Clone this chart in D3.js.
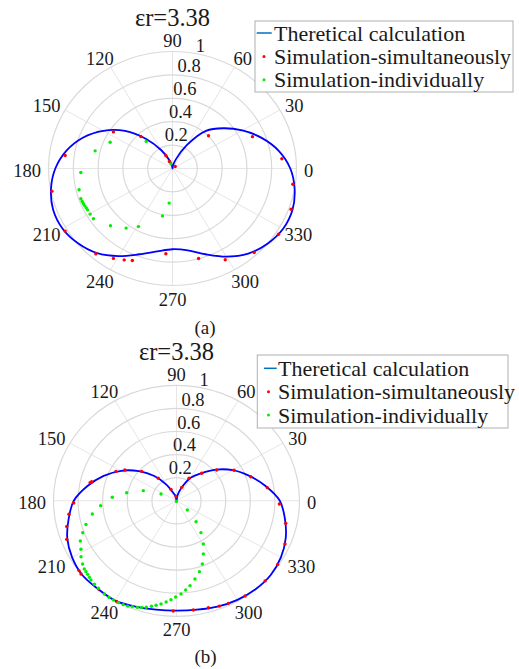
<!DOCTYPE html>
<html><head><meta charset="utf-8">
<script src="https://cdn.jsdelivr.net/npm/d3@7"></script>
<style>
body{margin:0;background:#fff}
</style>
</head><body>
<svg id="chart" width="519" height="669" font-family="'Liberation Serif', 'Times New Roman', Tinos, 'DejaVu Serif', serif"></svg>
<script>
// ---------- DATA ----------
const thetaTicks = [0,30,60,90,120,150,180,210,240,270,300,330];
const thetaTickLabels = ["0","30","60","90","120","150","180","210","240","270","300","330"];
const rTicks = [0.2,0.4,0.6,0.8,1];
const rTickLabels = ["0.2","0.4","0.6","0.8","1"];
const titleText = "εr=3.38";
const legendLabels = ["Theretical calculation","Simulation-simultaneously","Simulation-individually"];
const captions = ["(a)","(b)"];

const theoryAngles = [0,10,20,30,40,50,60,70,80,90,100,110,120,130,140,150,160,170,180,190,200,210,220,230,240,250,260,270,280,290,300,310,320,330,340,350];
const theoryA = [0.95,0.87,0.765,0.65,0.535,0.42,0.23,0.09,0.03,0,0.03,0.08,0.18,0.33,0.50,0.645,0.77,0.87,0.945,0.995,1.025,1.025,0.995,0.945,0.865,0.78,0.72,0.69,0.71,0.78,0.87,0.95,1.0,1.03,1.03,1.0];
const theoryB = [0.84,0.735,0.63,0.53,0.42,0.31,0.23,0.12,0.05,0,0.04,0.07,0.16,0.28,0.40,0.52,0.63,0.735,0.835,0.89,0.945,0.98,1.0,0.995,0.998,0.975,0.957,0.95,0.957,0.975,0.99,1.0,1.0,0.98,0.945,0.895];

const simulAAngles = [146.7,133,116,112,38,43.9,22.9,5.4,352.1,340,326.7,312.5,298.6,285.3,265.8,247.6,243.5,238.2,229.7,211.7,191.3,172.7];
const simulA = [0.57,0.374,0.123,0.065,0.028,0.403,0.70,0.886,0.98,1.018,1.023,0.975,0.889,0.797,0.731,0.85,0.873,0.904,0.956,1.018,0.992,0.873];
const indivAAngles = [132.5,155.9,166.4,182.6,193.6,199.3,201.2,202.8,204.3,205.8,207.3,210.4,214,224.4,233.7,241.1,258.7,264.8,108];
const indivA = [0.314,0.551,0.642,0.740,0.775,0.783,0.781,0.779,0.776,0.773,0.771,0.770,0.769,0.700,0.632,0.567,0.413,0.297,0.042];

const simulBAngles = [152.6,147.5,138,127.2,114.4,96,70,62.4,49.3,39.2,29.5,19.1,8.8,358.1,347.6,337,326.2,316.1,304.1,295.4,290.9,285.6,278.2,268.4,241,230.3,219.2,217.3,200.5,194,187.6,181.3,167.4,166.5];
const simulB = [0.554,0.497,0.381,0.245,0.109,0.036,0.124,0.22,0.314,0.422,0.537,0.638,0.747,0.837,0.909,0.958,0.99,1.0,0.995,0.983,0.976,0.962,0.955,0.954,1.0,0.993,1.002,0.997,0.953,0.92,0.882,0.836,0.72,0.71];
const indivBAngles = [176.7,170.2,162,154.9,270,183.9,189.5,195.5,199.9,204,208.4,212,215.6,218.2,219.8,221.4,223.1,224.6,227.3,230,234,236.7,239.1,241.8,244.3,246.5,248.6,251,253,255.1,257.4,259.6,262,264.5,267,269.5,272.6,275.5,278.5,282.5,286.9,291,295.4,300.2,305.8,311.3,317.7];
const indivB = [0.523,0.411,0.284,0.139,0.005,0.618,0.694,0.764,0.811,0.856,0.883,0.915,0.939,0.954,0.958,0.963,0.970,0.977,0.984,0.989,0.998,1.0,1.0,1.0,0.998,0.994,0.984,0.976,0.965,0.954,0.936,0.920,0.902,0.880,0.857,0.833,0.808,0.776,0.743,0.693,0.641,0.586,0.509,0.433,0.340,0.241,0.119];

// ---------- LAYOUT ----------
const panels = [
  {cx:172.5, cy:168.5, rx:124, ry:117, theory:theoryA,
   simAng:simulAAngles, sim:simulA, indAng:indivAAngles, ind:indivA,
   titleY:17, leg:{x:255,y:21,w:258,h:71,lineX:[256.7,271.7],dotX:264,textX:274,row0:33,dy:23.4},
   capX:205, capY:327, caption:captions[0]},
  {cx:176.5, cy:500.8, rx:123, ry:115.5, theory:theoryB,
   simAng:simulBAngles, sim:simulB, indAng:indivBAngles, ind:indivB,
   titleY:351.7, leg:{x:257.3,y:355,w:250.7,h:73,lineX:[264,276.7],dotX:268.5,textX:278,row0:368.3,dy:23.4},
   capX:205.5, capY:656.5, caption:captions[1]}
];

const svg = d3.select("#chart");
svg.append("rect").attr("width",519).attr("height",669).attr("fill","#fff");
const rad = d => d*Math.PI/180;
const txtColor = "#1a1a1a";

panels.forEach(p => {
  const g = svg.append("g");
  const sx = d3.scaleLinear().domain([0,1]).range([0,p.rx]);
  const sy = d3.scaleLinear().domain([0,1]).range([0,p.ry]);
  const px = (a,r) => p.cx + sx(r)*Math.cos(rad(a));
  const py = (a,r) => p.cy - sy(r)*Math.sin(rad(a));

  g.selectAll(".spoke").data(thetaTicks).join("line")
    .attr("x1",p.cx).attr("y1",p.cy)
    .attr("x2",d=>px(d,1)).attr("y2",d=>py(d,1))
    .attr("stroke","#e6e6e6").attr("stroke-width",1);
  g.selectAll(".ring").data(rTicks).join("ellipse")
    .attr("cx",p.cx).attr("cy",p.cy)
    .attr("rx",d=>sx(d)).attr("ry",d=>sy(d))
    .attr("fill","none").attr("stroke","#d9d9d9").attr("stroke-width",1.2);

  g.selectAll(".tl").data(thetaTicks).join("text")
    .attr("font-size","18.5px").attr("fill",txtColor)
    .attr("text-anchor","middle").attr("dominant-baseline","central")
    .text((d,i)=>thetaTickLabels[i])
    .each(function(d){
      const w = this.getComputedTextLength();
      const c = Math.cos(rad(d)), s = Math.sin(rad(d));
      const x = p.cx + p.rx*1.06*c + (w/2)*c;
      const y = p.cy - p.ry*1.06*s - 5*s + 2;
      d3.select(this).attr("x",x).attr("y",y);
    });

  g.selectAll(".rl").data(rTicks).join("text")
    .attr("font-size","18.5px").attr("fill",txtColor)
    .attr("text-anchor","end").attr("dominant-baseline","central")
    .attr("x",d=>px(80,d)+11).attr("y",d=>py(80,d)-10 + (d===1?3:0))
    .text((d,i)=>rTickLabels[i]);

  const pts = theoryAngles.map((a,i)=>[px(a,p.theory[i]), py(a,p.theory[i])]);
  g.append("path")
    .attr("d", d3.line().curve(d3.curveCatmullRomClosed.alpha(0.5))(pts))
    .attr("fill","none").attr("stroke","#0000ff").attr("stroke-width",1.8);

  g.selectAll(".sim").data(p.sim).join("circle")
    .attr("cx",(d,i)=>px(p.simAng[i],d)).attr("cy",(d,i)=>py(p.simAng[i],d))
    .attr("r",1.7).attr("fill","#ff0000");
  g.selectAll(".ind").data(p.ind).join("circle")
    .attr("cx",(d,i)=>px(p.indAng[i],d)).attr("cy",(d,i)=>py(p.indAng[i],d))
    .attr("r",1.7).attr("fill","#00ee00");

  g.append("text").attr("x",p.cx).attr("y",p.titleY).attr("fill",txtColor)
    .attr("text-anchor","middle").attr("dominant-baseline","central")
    .attr("font-size","24.5px").text(titleText);

  const L = p.leg;
  const lg = g.append("g");
  lg.append("rect").attr("x",L.x).attr("y",L.y).attr("width",L.w).attr("height",L.h)
    .attr("fill","#fff").attr("stroke","#b0b0b0").attr("stroke-width",1);
  lg.append("line").attr("x1",L.lineX[0]).attr("x2",L.lineX[1])
    .attr("y1",L.row0).attr("y2",L.row0).attr("stroke","#0072BD").attr("stroke-width",1.5);
  lg.append("circle").attr("cx",L.dotX).attr("cy",L.row0+L.dy).attr("r",1.5).attr("fill","#ff0000");
  lg.append("circle").attr("cx",L.dotX).attr("cy",L.row0+2*L.dy).attr("r",1.5).attr("fill","#00ee00");
  lg.selectAll(".lt").data(legendLabels).join("text")
    .attr("x",L.textX).attr("y",(d,i)=>L.row0+i*L.dy).attr("fill",txtColor)
    .attr("dominant-baseline","central").attr("font-size","22px").text(d=>d);

  g.append("text").attr("x",p.capX).attr("y",p.capY).attr("fill",txtColor)
    .attr("text-anchor","middle").attr("dominant-baseline","central")
    .attr("font-size","19px").text(p.caption);
});
</script>
</body></html>
